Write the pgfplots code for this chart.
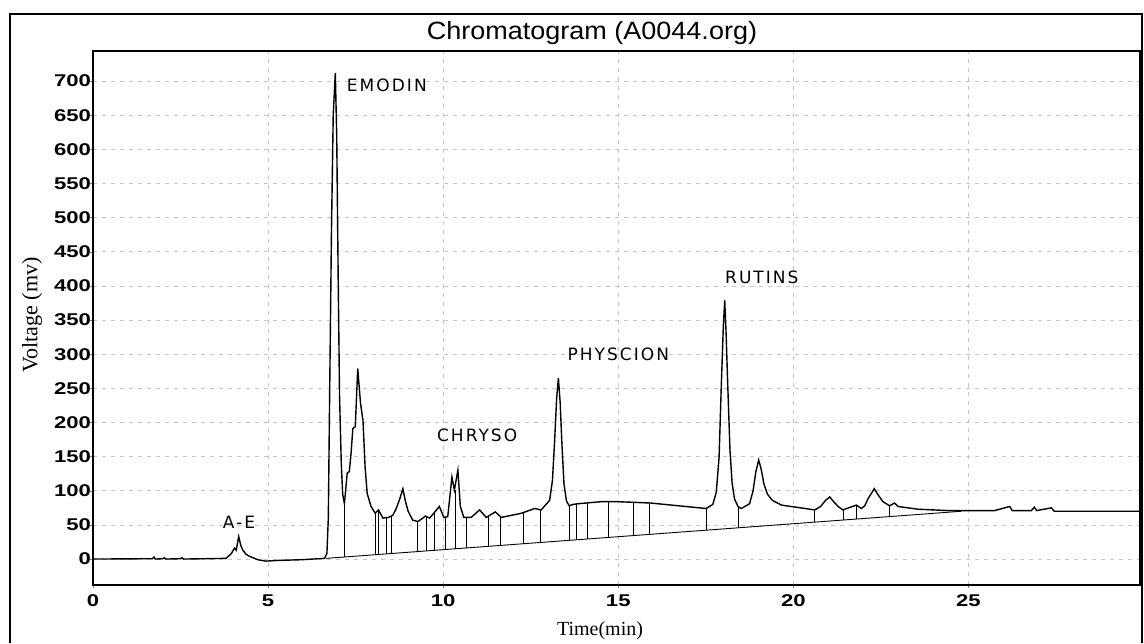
\documentclass[border=0pt]{standalone}
\usepackage{fontspec}
\setmainfont{Liberation Serif}
\newfontfamily\ticksf[FakeStretch=1.3]{Liberation Sans}
\newfontfamily\titlesf[FakeStretch=1.08]{Liberation Sans}
\newfontfamily\handf[LetterSpace=12]{DejaVu Sans}
\usepackage{pgfplots}
\pgfplotsset{compat=1.18}

\begin{document}
\begin{tikzpicture}[x=1pt,y=1pt]
\useasboundingbox (0,0) rectangle (572,321.5);
\draw[line width=0.8pt] (5,0) -- (5,314.5) -- (571,314.5) -- (571,0);
\node[font=\titlesf\fontsize{12.5}{14}\selectfont] at (296,305) {Chromatogram (A0044.org)};
\node[font=\fontsize{10}{12}\selectfont] at (300,6) {Time(min)};
\node[font=\fontsize{11}{13}\selectfont, rotate=90] at (16,164) {Voltage (mv)};
\begin{axis}[
  at={(46.5pt,29pt)}, anchor=south west,
  scale only axis, width=523.5pt, height=267pt,
  xmin=0, xmax=29.9, ymin=-38, ymax=744,
  xtick={0,5,...,25}, ytick={0,50,...,700},
  grid=major,
  major grid style={dash pattern=on 2pt off 2.5pt, gray!45, line width=0.4pt},
  axis line style={line width=1pt},
  tick align=outside, major tick length=1.5pt,
  xtick pos=left, ytick pos=left,
  tick label style={font=\ticksf\bfseries\fontsize{8.5}{9}\selectfont},
  yticklabel style={xshift=4pt},
  /pgf/number format/assume math mode=true,
  unbounded coords=jump,
  clip=false,
]
% chromatogram trace
\addplot[black, line width=0.7pt] coordinates {
(0,0) (1.70,0.5) (1.74,3) (1.78,0) (2.00,0.5) (2.04,2) (2.08,0) (2.50,0.5) (2.54,2) (2.58,0)
(3.80,1) (3.95,8) (4.04,16) (4.09,13) (4.16,33) (4.22,20) (4.28,13) (4.37,7) (4.47,4) (4.71,-1) (4.94,-3)
(5.28,-2) (5.94,-1) (6.61,1) (6.68,8) (6.72,60) (6.76,250) (6.81,480) (6.86,650) (6.92,712)
(6.96,620) (7.00,420) (7.04,240) (7.09,140) (7.13,95) (7.18,81) (7.26,126) (7.32,128) (7.37,155)
(7.42,191) (7.49,194) (7.56,279) (7.64,228) (7.71,203) (7.77,135) (7.83,96) (7.94,77)
(8.06,67) (8.15,72) (8.28,60) (8.44,61) (8.56,64) (8.66,74) (8.76,88) (8.85,103) (8.92,85)
(9.00,70) (9.13,57) (9.28,55) (9.42,60) (9.49,63) (9.61,60) (9.73,67) (9.89,77) (10.02,61)
(10.13,62) (10.25,120) (10.32,101) (10.42,130) (10.49,77) (10.59,61) (10.80,61)
(11.04,72) (11.23,61) (11.49,69) (11.66,61) (12.23,67) (12.61,74) (12.80,72)
(13.04,86) (13.12,115) (13.18,170) (13.24,235) (13.29,265) (13.34,230) (13.39,170)
(13.45,110) (13.52,85) (13.60,78) (13.71,80) (13.85,81) (14.51,84) (14.99,84) (15.94,82)
(16.13,81) (17.51,74) (17.70,80) (17.80,98) (17.88,150) (17.94,250) (18.00,340) (18.04,379)
(18.08,330) (18.13,250) (18.19,160) (18.25,112) (18.32,88) (18.42,77) (18.51,74)
(18.75,81) (18.85,100) (18.93,128) (19.01,145) (19.08,132) (19.16,110) (19.26,95)
(19.40,86) (19.66,79) (20.61,72) (20.78,77) (20.92,86) (21.04,91) (21.15,84) (21.28,77)
(21.41,72) (21.80,79) (21.94,74) (22.04,78) (22.13,88) (22.31,103) (22.42,94) (22.56,84)
(22.75,78) (22.89,82) (22.99,77) (23.56,73) (24.42,71)
(25.75,71) (26.18,77) (26.25,71) (26.80,71) (26.88,76) (26.95,71) (27.37,75)
(27.45,70) (29.9,70)
};
% integration baseline
\addplot[black, line width=0.45pt] coordinates {(6.65,1) (24.8,70)};
% peak drop lines
\addplot[black, line width=0.4pt] coordinates {
(7.18,3.0) (7.18,81) (7.18,nan)
(8.06,6.4) (8.06,67) (8.06,nan)
(8.15,6.7) (8.15,72) (8.15,nan)
(8.37,7.5) (8.37,60) (8.37,nan)
(8.53,8.1) (8.53,63) (8.53,nan)
(9.26,10.9) (9.26,55) (9.26,nan)
(9.51,11.9) (9.51,63) (9.51,nan)
(9.75,12.8) (9.75,67) (9.75,nan)
(10.06,14.0) (10.06,61) (10.06,nan)
(10.34,15.0) (10.34,101) (10.34,nan)
(10.66,16.2) (10.66,61) (10.66,nan)
(11.28,18.6) (11.28,61) (11.28,nan)
(11.64,20.0) (11.64,62) (11.64,nan)
(12.28,22.4) (12.28,67) (12.28,nan)
(12.78,24.3) (12.78,72) (12.78,nan)
(13.61,27.4) (13.61,78) (13.61,nan)
(13.80,28.2) (13.80,80) (13.80,nan)
(14.13,29.4) (14.13,82) (14.13,nan)
(14.71,31.6) (14.71,84) (14.71,nan)
(15.44,34.4) (15.44,83) (15.44,nan)
(15.89,36.1) (15.89,82) (15.89,nan)
(17.51,42.3) (17.51,74) (17.51,nan)
(18.42,45.7) (18.42,77) (18.42,nan)
(20.61,54.0) (20.61,72) (20.61,nan)
(21.42,57.1) (21.42,72) (21.42,nan)
(21.80,58.6) (21.80,79) (21.80,nan)
(22.75,62.2) (22.75,78) (22.75,nan)
};
% handwritten peak names
\node[font=\handf\fontsize{8.5}{10}\selectfont] at (axis cs:4.17,54) {A-E};
\node[font=\handf\fontsize{8.5}{10}\selectfont, anchor=west] at (axis cs:7.05,694) {EMODIN};
\node[font=\handf\fontsize{8.5}{10}\selectfont] at (axis cs:10.97,181) {CHRYSO};
\node[font=\handf\fontsize{8.5}{10}\selectfont] at (axis cs:15.0,300) {PHYSCION};
\node[font=\handf\fontsize{8.5}{10}\selectfont] at (axis cs:19.1,413) {RUTINS};
\end{axis}
\end{tikzpicture}
\end{document}
